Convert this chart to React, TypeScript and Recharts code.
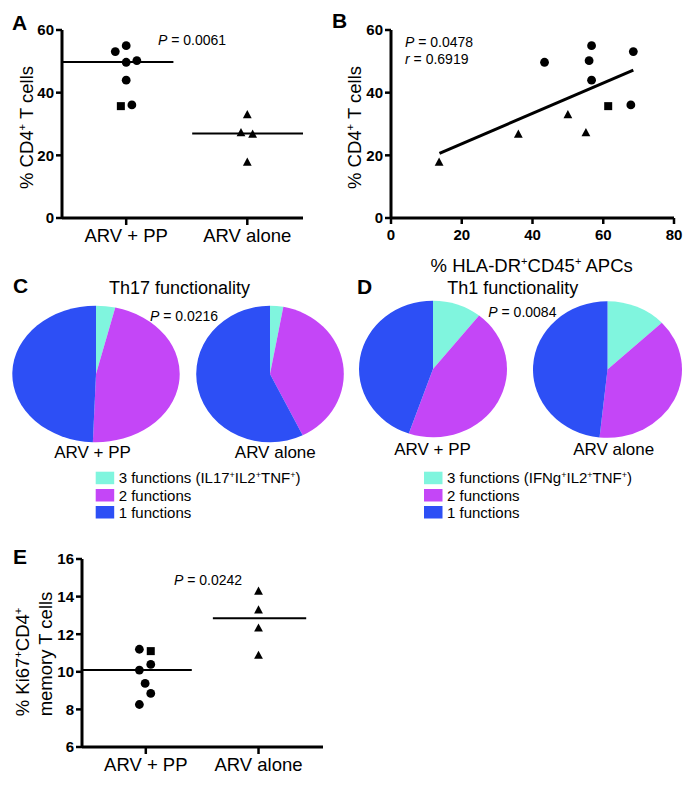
import React from "react";
import {
  Cell,
  Pie,
  PieChart,
  ReferenceLine,
  Scatter,
  ScatterChart,
  XAxis,
  YAxis,
} from "recharts";

const groups = ["ARV + PP", "ARV alone"];

// A + B: % CD4+ T cells, one value per patient
const cd4PP = [53.1, 55.0, 49.7, 50.2, 44.0, 36.1];
const cd4PPSquare = [35.7];
const cd4Alone = [32.9, 27.2, 26.7, 17.8];
const cd4Medians = [49.8, 27.0];
// horizontal scatter inside each column (group units)
const cd4PPJitter = [-0.09, 0, 0, 0.088, 0, 0.047];
const cd4PPSquareJitter = [-0.044];
const cd4AloneJitter = [1.0, 0.948, 1.044, 1.0];
const cd4MedianSpans = [
  [-0.53, 0.39],
  [0.545, 1.46],
];

// B: % HLA-DR+CD45+ APCs for the same patients
const apcPP = [68.5, 56.7, 43.4, 56.0, 56.7, 67.8];
const apcPPSquare = [61.4];
const apcAlone = [50.0, 55.1, 36.0, 13.6];
const fitX = [13.7, 68.5];
const fitY = [20.6, 47.2];

// C + D: share of cells by number of functions
const functionNames = ["3 functions", "2 functions", "1 functions"];
const th17PP = [3.7, 46.9, 49.4];
const th17Alone = [2.9, 39.8, 57.3];
const th1PP = [10.7, 44.6, 44.7];
const th1Alone = [13.0, 38.7, 48.3];
const sliceColors = ["#80f5de", "#c446f7", "#2d4ff5"];

// E: % Ki67+CD4+ memory T cells
const ki67PP = [11.2, 10.39, 10.09, 9.38, 8.85, 8.26];
const ki67PPJitter = [-0.057, 0.044, -0.057, -0.006, 0.044, -0.057];
const ki67PPSquare = [11.1];
const ki67PPSquareJitter = [0.044];
const ki67Alone = [14.28, 13.28, 12.32, 10.87];
const ki67AloneJitter = [1, 1, 1, 1];
const ki67Medians = [10.1, 12.85];
const ki67MedianSpans = [
  [-0.566, 0.408],
  [0.595, 1.423],
];

const FONT = '"Liberation Sans", Arial, Helvetica, sans-serif';
const INK = "#000";
const tickLine = { stroke: INK, strokeWidth: 2.5 };

const pts = (ys: number[], xs: number[]) => ys.map((y, i) => ({ x: xs[i], y }));

// numeric ticks are bold in the figure
const YNum = (p: any) => (
  <text x={p.x} y={p.y} dy="0.36em" textAnchor="end" fontSize={15} fontWeight={700} fill={INK} fontFamily={FONT}>
    {p.payload.value}
  </text>
);
const XNum = (p: any) => (
  <text x={p.x} y={p.y} dy="0.72em" textAnchor="middle" fontSize={15} fontWeight={700} fill={INK} fontFamily={FONT}>
    {p.payload.value}
  </text>
);
const XGroup = (p: any) => (
  <text x={p.x} y={p.y} dy="0.72em" textAnchor="middle" fontSize={18.5} fill={INK} fontFamily={FONT}>
    {groups[p.payload.value]}
  </text>
);

const Dot = (p: any) => <circle cx={p.cx} cy={p.cy} r={4.4} fill={INK} />;
const Sq = (p: any) => (
  <rect x={p.cx - 4} y={p.cy - 4} width={8} height={8} fill={INK} />
);
const Tri = (p: any) => (
  <polygon
    points={`${p.cx},${p.cy - 4.8} ${p.cx - 4.4},${p.cy + 3.4} ${p.cx + 4.4},${p.cy + 3.4}`}
    fill={INK}
  />
);

type Part = [string, boolean?];

function rich(parts: Part[], fs: number) {
  const shift = fs * 0.38;
  let raised = false;
  return parts.map(([t, sup], i) => {
    if (sup) {
      raised = true;
      return (
        <tspan key={i} fontSize={fs * 0.6} dy={-shift}>
          {t}
        </tspan>
      );
    }
    const dy = raised ? shift : 0;
    raised = false;
    return (
      <tspan key={i} fontSize={fs} dy={dy}>
        {t}
      </tspan>
    );
  });
}

function GroupPlot(props: any) {
  const {
    left, top, width, height, marginTop, yWidth, xHeight, right,
    xDomain, yDomain, yTicks, circles, square, triangles, medians, spans,
  } = props;
  return (
    <div style={{ position: "absolute", left, top }}>
      <ScatterChart
        width={width}
        height={height}
        margin={{ top: marginTop, right, bottom: 0, left: 0 }}
        style={{ fontFamily: FONT }}
      >
        <XAxis
          type="number"
          dataKey="x"
          domain={xDomain}
          allowDataOverflow
          ticks={[0, 1]}
          interval={0}
          stroke={INK}
          strokeWidth={3}
          tickLine={tickLine}
          tickSize={7}
          tickMargin={4}
          height={xHeight}
          tick={XGroup}
        />
        <YAxis
          type="number"
          dataKey="y"
          domain={yDomain}
          allowDataOverflow
          ticks={yTicks}
          interval={0}
          width={yWidth}
          stroke={INK}
          strokeWidth={3}
          tickLine={tickLine}
          tickSize={6}
          tickMargin={2}
          tick={YNum}
        />
        {medians.map((m: number, i: number) => (
          <ReferenceLine
            key={i}
            segment={[
              { x: spans[i][0], y: m },
              { x: spans[i][1], y: m },
            ]}
            stroke={INK}
            strokeWidth={2}
            ifOverflow="visible"
          />
        ))}
        <Scatter data={circles} shape={Dot} isAnimationActive={false} />
        <Scatter data={square} shape={Sq} isAnimationActive={false} />
        <Scatter data={triangles} shape={Tri} isAnimationActive={false} />
      </ScatterChart>
    </div>
  );
}

function CorrelationPlot() {
  return (
    <div style={{ position: "absolute", left: 330, top: 0 }}>
      <ScatterChart
        width={368}
        height={260}
        margin={{ top: 30, right: 24, bottom: 0, left: 0 }}
        style={{ fontFamily: FONT }}
      >
        <XAxis
          type="number"
          dataKey="x"
          domain={[0, 80]}
          ticks={[0, 20, 40, 60, 80]}
          interval={0}
          stroke={INK}
          strokeWidth={3}
          tickLine={tickLine}
          tickSize={6}
          tickMargin={5}
          height={42}
          tick={XNum}
        />
        <YAxis
          type="number"
          dataKey="y"
          domain={[0, 60]}
          ticks={[0, 20, 40, 60]}
          interval={0}
          width={61}
          stroke={INK}
          strokeWidth={3}
          tickLine={tickLine}
          tickSize={6}
          tickMargin={2}
          tick={YNum}
        />
        <ReferenceLine
          segment={[
            { x: fitX[0], y: fitY[0] },
            { x: fitX[1], y: fitY[1] },
          ]}
          stroke={INK}
          strokeWidth={3}
          ifOverflow="visible"
        />
        <Scatter data={pts(cd4PP, apcPP)} shape={Dot} isAnimationActive={false} />
        <Scatter data={pts(cd4PPSquare, apcPPSquare)} shape={Sq} isAnimationActive={false} />
        <Scatter data={pts(cd4Alone, apcAlone)} shape={Tri} isAnimationActive={false} />
      </ScatterChart>
    </div>
  );
}

// pies in the figure are slightly flattened, so the circle is squeezed vertically
function EllipsePie({ values, cx, cy, rx, ry }: any) {
  const size = Math.ceil(2 * rx) + 2;
  const data = functionNames.map((name, i) => ({ name, value: values[i] }));
  return (
    <div
      style={{
        position: "absolute",
        left: cx - size / 2,
        top: cy - size / 2,
        width: size,
        height: size,
        transform: `scaleY(${ry / rx})`,
      }}
    >
      <PieChart width={size} height={size} margin={{ top: 0, right: 0, bottom: 0, left: 0 }}>
        <Pie
          data={data}
          dataKey="value"
          nameKey="name"
          cx="50%"
          cy="50%"
          innerRadius={0}
          outerRadius={rx}
          startAngle={90}
          endAngle={-270}
          stroke="none"
          isAnimationActive={false}
        >
          {data.map((d, i) => (
            <Cell key={d.name} fill={sliceColors[i]} />
          ))}
        </Pie>
      </PieChart>
    </div>
  );
}

function Legend({ x, rows }: { x: number; rows: Part[][] }) {
  const tops = [471.7, 489, 506];
  return (
    <g>
      {rows.map((parts, i) => (
        <g key={i}>
          <rect x={x} y={tops[i]} width={18.5} height={12.5} fill={sliceColors[i]} />
          <text x={x + 23} y={tops[i] + 11.6} fontSize={15}>
            {rich(parts, 15)}
          </text>
        </g>
      ))}
    </g>
  );
}

const PVal = ({ x, y, sym = "P", val }: any) => (
  <text x={x} y={y} fontSize={14}>
    <tspan fontStyle="italic">{sym}</tspan> = {val}
  </text>
);

export default function App() {
  const cd4Label: Part[] = [["% CD4"], ["+", true], [" T cells"]];
  const th17Legend: Part[][] = [
    [[functionNames[0] + " (IL17"], ["+", true], ["IL2"], ["+", true], ["TNF"], ["+", true], [")"]],
    [[functionNames[1]]],
    [[functionNames[2]]],
  ];
  const th1Legend: Part[][] = [
    [[functionNames[0] + " (IFNg"], ["+", true], ["IL2"], ["+", true], ["TNF"], ["+", true], [")"]],
    [[functionNames[1]]],
    [[functionNames[2]]],
  ];

  return (
    <div
      style={{
        position: "absolute",
        left: 0,
        top: 0,
        width: 698,
        height: 787,
        background: "#fff",
        fontFamily: FONT,
      }}
    >
      <GroupPlot
        left={0}
        top={0}
        width={310}
        height={260}
        marginTop={30}
        right={7}
        yWidth={62}
        xHeight={42}
        xDomain={[-0.53, 1.46]}
        yDomain={[0, 60]}
        yTicks={[0, 20, 40, 60]}
        circles={pts(cd4PP, cd4PPJitter)}
        square={pts(cd4PPSquare, cd4PPSquareJitter)}
        triangles={pts(cd4Alone, cd4AloneJitter)}
        medians={cd4Medians}
        spans={cd4MedianSpans}
      />
      <CorrelationPlot />

      <EllipsePie values={th17PP} cx={96.3} cy={374.3} rx={83.7} ry={68.3} />
      <EllipsePie values={th17Alone} cx={269.5} cy={374.3} rx={73.8} ry={68.3} />
      <EllipsePie values={th1PP} cx={433.3} cy={369} rx={74} ry={68.3} />
      <EllipsePie values={th1Alone} cx={607.2} cy={369} rx={74.5} ry={68.3} />

      <GroupPlot
        left={0}
        top={520}
        width={330}
        height={267}
        marginTop={39}
        right={7}
        yWidth={82}
        xHeight={40}
        xDomain={[-0.566, 1.572]}
        yDomain={[6, 16]}
        yTicks={[6, 8, 10, 12, 14, 16]}
        circles={pts(ki67PP, ki67PPJitter)}
        square={pts(ki67PPSquare, ki67PPSquareJitter)}
        triangles={pts(ki67Alone, ki67AloneJitter)}
        medians={ki67Medians}
        spans={ki67MedianSpans}
      />

      <svg
        width={698}
        height={787}
        style={{ position: "absolute", left: 0, top: 0, pointerEvents: "none", whiteSpace: "pre" }}
        fontFamily={FONT}
        fill={INK}
      >
        <g fontSize={21} fontWeight={700}>
          <text x={12} y={30}>A</text>
          <text x={332} y={28}>B</text>
          <text x={13} y={293}>C</text>
          <text x={357} y={294}>D</text>
          <text x={13} y={564}>E</text>
        </g>

        <PVal x={158} y={45} val="0.0061" />
        <PVal x={405} y={47.3} val="0.0478" />
        <PVal x={405} y={64} sym="r" val="0.6919" />
        <PVal x={150} y={320.7} val="0.0216" />
        <PVal x={488.3} y={316.7} val="0.0084" />
        <PVal x={174} y={585} val="0.0242" />

        <text transform="translate(33.3,127.5) rotate(-90)" textAnchor="middle">
          {rich(cd4Label, 18.5)}
        </text>
        <text transform="translate(361,127.5) rotate(-90)" textAnchor="middle">
          {rich(cd4Label, 18.5)}
        </text>
        <text x={531.7} y={272} textAnchor="middle">
          {rich([["% HLA-DR"], ["+", true], ["CD45"], ["+", true], [" APCs"]], 18.5)}
        </text>
        <text transform="translate(29.3,662) rotate(-90)" textAnchor="middle">
          {rich([["% Ki67"], ["+", true], ["CD4"], ["+", true]], 18.5)}
        </text>
        <text transform="translate(51.7,654) rotate(-90)" textAnchor="middle" fontSize={18.5}>
          memory T cells
        </text>

        <text x={179.5} y={294} textAnchor="middle" fontSize={18}>
          Th17 functionality
        </text>
        <text x={512.8} y={294} textAnchor="middle" fontSize={18}>
          Th1 functionality
        </text>

        <g fontSize={17} textAnchor="middle">
          <text x={92.5} y={458.3}>{groups[0]}</text>
          <text x={275.3} y={458.3}>{groups[1]}</text>
          <text x={432.5} y={455}>{groups[0]}</text>
          <text x={613.7} y={455}>{groups[1]}</text>
        </g>

        <Legend x={95.7} rows={th17Legend} />
        <Legend x={424} rows={th1Legend} />
      </svg>
    </div>
  );
}
